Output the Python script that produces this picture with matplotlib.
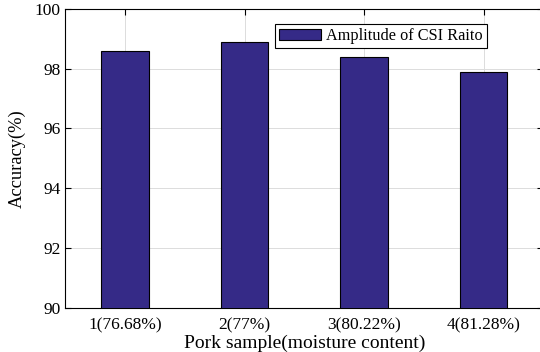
import matplotlib
matplotlib.use("Agg")
import numpy as np
import matplotlib.pyplot as plt

samples = ["1(76.68%)", "2(77%)", "3(80.22%)", "4(81.28%)"]
accuracy = [98.6, 98.9, 98.4, 97.9]
yticks = [90, 92, 94, 96, 98, 100]

plt.rcParams['font.family'] = ['Liberation Serif', 'DejaVu Serif']

fig = plt.figure(figsize=(5.4, 3.52), dpi=100)
ax = fig.add_axes([0.121, 0.125, 0.885, 0.85])

x = np.arange(1, len(samples) + 1)
ax.bar(x, accuracy, width=0.4, color='#352A87', edgecolor='black', linewidth=0.8,
       label='Amplitude of CSI Raito', zorder=3)

ax.set_xlim(0.5, 4.5)
ax.set_ylim(90, 100)
ax.set_xticks(x)
ax.set_xticklabels(samples)
ax.set_yticks(yticks)
ax.grid(True, color='#dcdcdc', linewidth=0.7, zorder=0)
ax.tick_params(direction='in', top=True, right=True, labelsize=12.5, length=4)
ax.tick_params(axis='x', pad=7)
for s in ax.spines.values():
    s.set_linewidth(0.8)

ax.set_xlabel('Pork sample(moisture content)', fontsize=14, labelpad=1)
ax.set_ylabel('Accuracy(%)', fontsize=13.3, labelpad=6)

leg = ax.legend(loc='upper right', bbox_to_anchor=(0.882, 0.948), fontsize=11.7,
                fancybox=False, edgecolor='black', framealpha=1,
                borderpad=0.25, handlelength=2.6, handletextpad=0.3, borderaxespad=0)
leg.get_frame().set_linewidth(0.8)

fig.savefig('out.png', dpi=100)
